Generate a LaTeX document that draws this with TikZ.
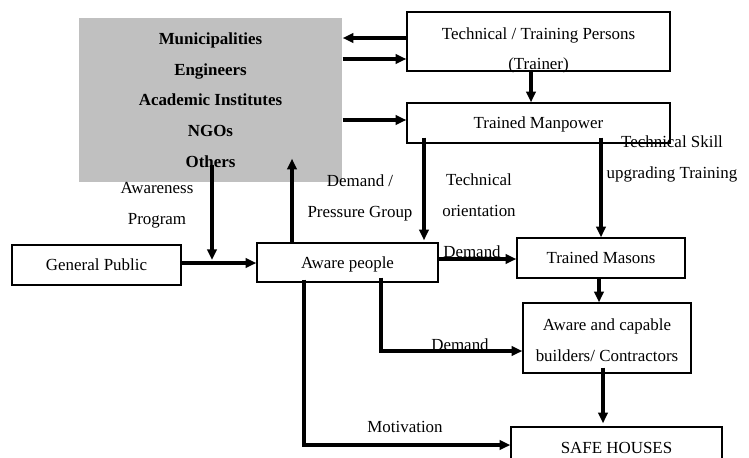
\documentclass[tikz,border=0pt]{standalone}
\usepackage{fontspec}
\setmainfont{Liberation Serif}
\usetikzlibrary{arrows.meta,calc}
\definecolor{boxgray}{HTML}{C0C0C0}
\begin{document}
\begin{tikzpicture}[x=0.75pt,y=-0.75pt,
  every node/.style={font=\fontsize{12.7}{23}\selectfont},
  pbox/.style n args={2}{draw, line width=1pt, inner sep=0pt, minimum width=#1*0.75pt, minimum height=#2*0.75pt, align=center},
  onel/.style={text depth=0pt},
  arr/.style={line width=2.4pt, -{Triangle[length=8pt,width=7pt]}},
  lbl/.style={align=center, inner sep=0pt},
]
\useasboundingbox (0,0) rectangle (749,457);
\clip (0,0) rectangle (749,457);

% boxes
\node[pbox={263}{164}, draw=none, fill=boxgray, font=\fontsize{12.7}{23}\selectfont\bfseries] (gray) at (210.5,100)
  {Municipalities\\Engineers\\Academic Institutes\\NGOs\\Others};
\node[pbox={263}{59}] (trainer) at (538.5,41.5) {};
\node[lbl] (trainertext) at (538.5,50.5) {Technical / Training Persons\\(Trainer)};
\node[pbox={263}{40}, onel] (manpower) at (538.5,123) {Trained Manpower};
\node[pbox={169}{40}, onel] (gp) at (96.5,265) {General Public};
\node[pbox={181}{39}, onel] (aware) at (347.5,262.5) {Aware people};
\node[pbox={168}{40}, onel] (masons) at (601,258) {Trained Masons};
\node[pbox={168}{70}] (capable) at (607,338) {};
\node[lbl] (capabletext) at (607,340) {Aware and capable\\builders/ Contractors};
\node[pbox={211}{42}, onel] (safe) at (616.5,448) {SAFE HOUSES};

% labels
\node[lbl] (lskill) at (672,159) {Technical Skill\\upgrading Training};
\node[lbl] (lorient) at (479,195) {Technical\\orientation};
\node[lbl] (lpress) at (360,198) {Demand /\\Pressure Group};
\node[lbl] (laware) at (157,205) {Awareness\\Program};
\node[lbl] (ldem1) at (472,252) {Demand};
\node[lbl] (ldem2) at (460,345) {Demand};
\node[lbl] (lmot) at (405,427) {Motivation};

% connectors
\coordinate (jn) at (212,260);
\draw[arr] (trainer.west |- 0,38) -- (gray.east |- 0,38);
\draw[arr] (gray.east |- 0,59) -- (trainer.west |- 0,59);
\draw[arr] (gray.east |- 0,120) -- (manpower.west |- 0,120);
\draw[arr] (trainer.south -| 531,0) -- (manpower.north -| 531,0);
\draw[arr] ($(manpower.south -| 424,0)+(0,-6)$) -- ($(aware.north -| 424,0)+(0,-2)$);
\draw[arr] ($(manpower.south -| 601,0)+(0,-6)$) -- (masons.north -| 601,0);
\draw[arr] ($(gray.south -| 212,0)+(0,-18)$) -- (jn);
\draw[arr] (gp.east |- 0,263) -- (aware.west |- 0,263);
\draw[arr] (aware.north -| 292,0) -- ($(gray.south -| 292,0)+(0,-24)$);
\draw[arr] (aware.east |- 0,259) -- (masons.west |- 0,259);
\draw[arr] (masons.south -| 599,0) -- (capable.north -| 599,0);
\draw[arr] ($(aware.south -| 381,0)+(0,-5)$) |- (capable.west |- 0,351);
\draw[arr] ($(capable.south -| 603,0)+(0,-6)$) -- ($(safe.north -| 603,0)+(0,-3)$);
\draw[arr] ($(aware.south -| 304,0)+(0,-3)$) |- (safe.west |- 0,445);
\end{tikzpicture}
\end{document}
